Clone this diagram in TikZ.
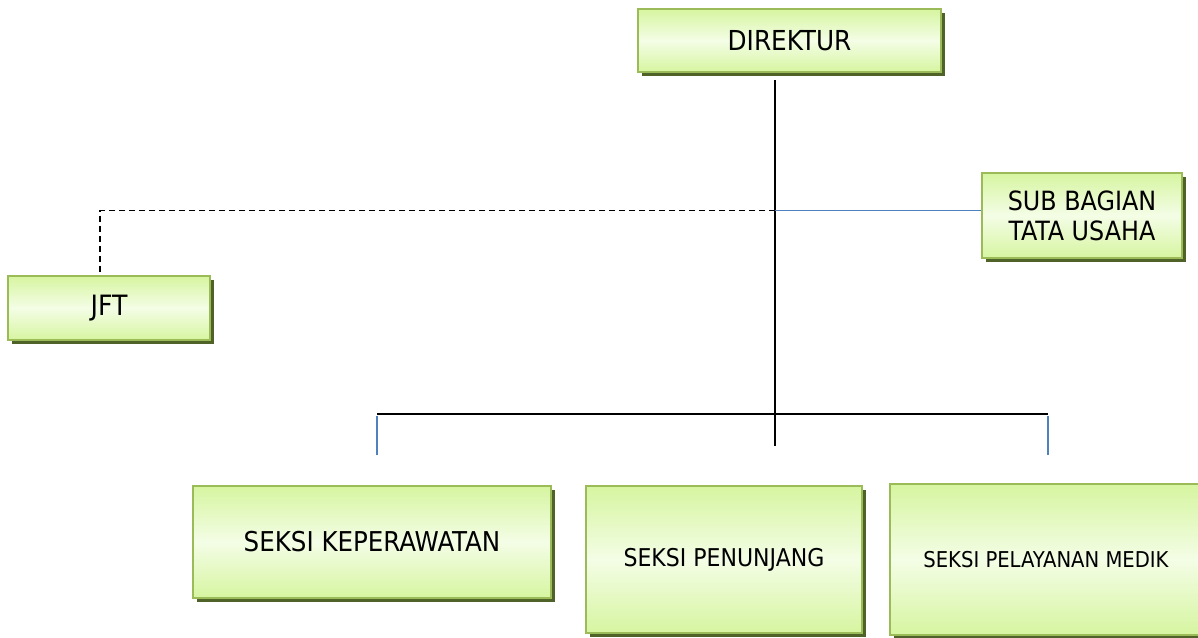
\documentclass[tikz,border=0pt]{standalone}
\usepackage{fontspec}
\setmainfont{DejaVu Sans Condensed}
\usetikzlibrary{calc,shadows}
\definecolor{boxborder}{HTML}{9BBB59}
\definecolor{boxshadow}{HTML}{4F6228}
\definecolor{boxtop}{HTML}{D6F5A0}
\definecolor{boxmid}{HTML}{F4FDE6}
\definecolor{linkblue}{HTML}{4F81BD}
\tikzset{
  orgbox/.style={draw=boxborder, line width=2pt, top color=boxtop, bottom color=boxtop, middle color=boxmid,
    shading angle=0, inner sep=0pt, align=center, text=black,
    drop shadow={shadow xshift=4pt, shadow yshift=-4pt, fill=boxshadow, opacity=1}},
  solidline/.style={line width=1.5pt, black},
  blueline/.style={line width=1.5pt, linkblue},
  dashline/.style={line width=1.4pt, black, dash pattern=on 6pt off 4pt},
}
\begin{document}
\begin{tikzpicture}[x=1pt,y=-1pt]
\useasboundingbox (0,0) rectangle (1198,637);
\node[orgbox, minimum width=303pt, minimum height=63pt, font=\fontsize{27.5}{31}\selectfont] (dir) at (789.5,40.5) {DIREKTUR};
\node[orgbox, minimum width=200pt, minimum height=85pt, font=\fontsize{26.5}{30}\selectfont] (sub) at (1082,215.5) {SUB BAGIAN\\TATA USAHA};
\node[orgbox, minimum width=202pt, minimum height=64pt, font=\fontsize{28}{31}\selectfont] (jft) at (109,308) {JFT};
\node[orgbox, minimum width=358pt, minimum height=112pt, font=\fontsize{27.3}{31}\selectfont] (kep) at (372,542) {SEKSI KEPERAWATAN};
\node[orgbox, minimum width=276pt, minimum height=147pt, font=\fontsize{24.5}{28}\selectfont] (pen) at (724,559.5) {SEKSI PENUNJANG};
\node[orgbox, minimum width=312pt, minimum height=151pt, font=\fontsize{21.8}{25}\selectfont] (med) at (1046,559.5) {SEKSI PELAYANAN MEDIK};
\coordinate (top) at (775,80);
\coordinate (jmid) at (775,210.5);
\coordinate (jbar) at (775,414);
\coordinate (bot) at (775,446);
\coordinate (barL) at (377,414);
\coordinate (barR) at (1048,414);
\coordinate (tickL) at (377,455);
\coordinate (tickR) at (1048,455);
\coordinate (dcorner) at (100,210.5);
\coordinate (dend) at (100,273);
\draw[solidline] (top) -- (bot);
\draw[solidline] (barL) -- (barR);
\draw[blueline] (jmid) -- (jmid -| sub.west);
\draw[dashline] (jmid) -- (dcorner) -- (dend);
\draw[blueline] ($(barL)+(0,1.5)$) -- (tickL);
\draw[blueline] ($(barR)+(0,1.5)$) -- (tickR);
\end{tikzpicture}
\end{document}
